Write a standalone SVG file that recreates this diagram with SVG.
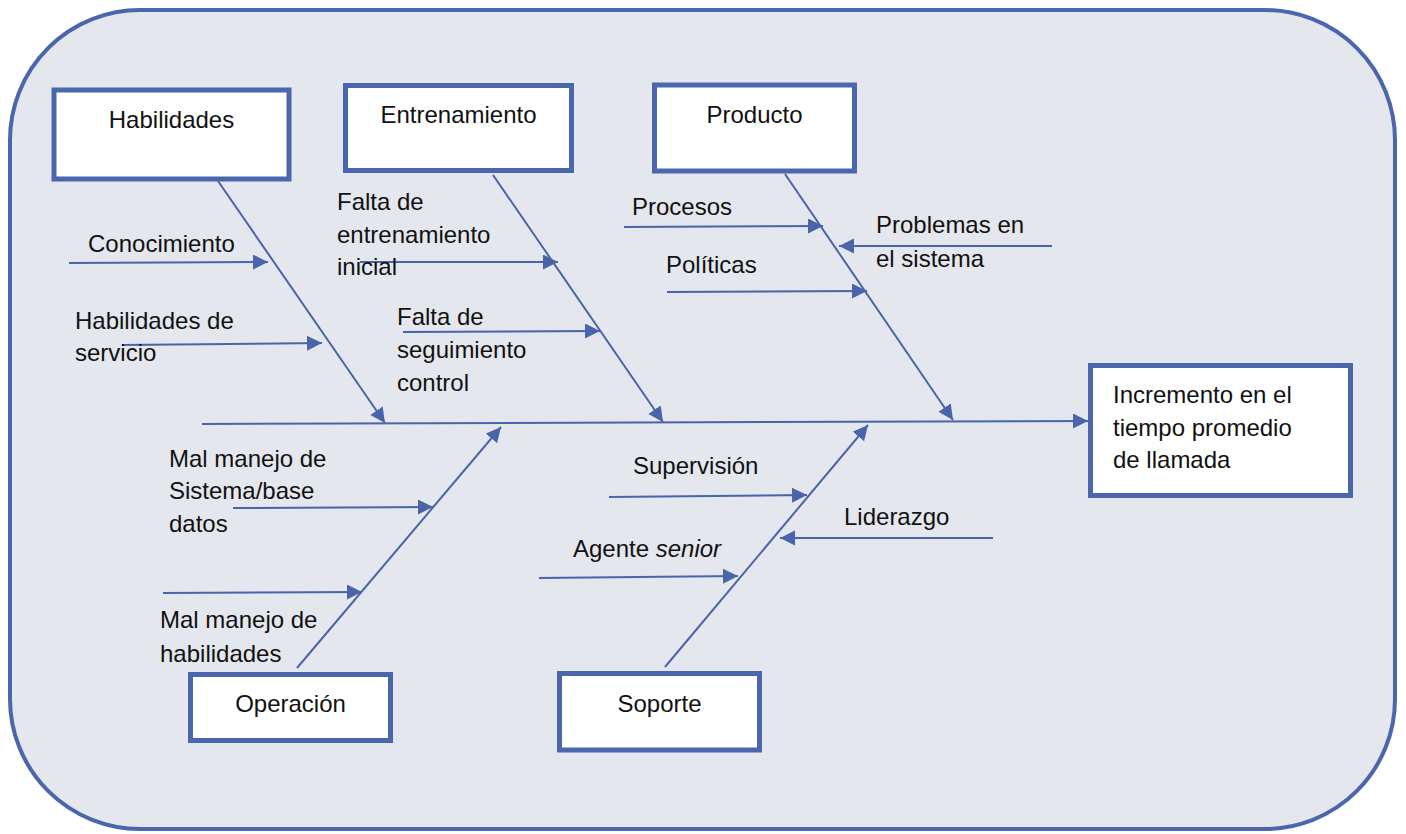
<svg xmlns="http://www.w3.org/2000/svg" width="1406" height="834" viewBox="0 0 1406 834">
  <style>
    .frame { fill: #e4e7ee; stroke: #4a66ac; stroke-width: 4; }
    .box { fill: #ffffff; stroke: #4a66ac; stroke-width: 5; }
    .ln { fill: none; stroke: #4a64aa; stroke-width: 2; }
    .arr { marker-end: url(#head); }
    text { font-family: "Liberation Sans", Arial, sans-serif; font-size: 24px; fill: #111111; }
    .c { text-anchor: middle; }
  </style>
  <defs>
    <marker id="head" markerUnits="userSpaceOnUse" markerWidth="16" markerHeight="16" viewBox="0 0 16 16" refX="15" refY="7.5" orient="auto">
      <path d="M0,0 L15,7.5 L0,15 z" fill="#4a64aa"/>
    </marker>
  </defs>

  <!-- background panel -->
  <rect class="frame" x="10" y="10" width="1385" height="819" rx="130" ry="130"/>

  <!-- spine, bones and cause arrows -->
  <g id="connectors">
    <line class="ln arr" x1="202" y1="424" x2="1088" y2="421"/>
    <line class="ln arr" x1="218" y1="181" x2="385" y2="423"/>
    <line class="ln arr" x1="493" y1="175" x2="663" y2="422"/>
    <line class="ln arr" x1="785" y1="174" x2="953" y2="420"/>
    <line class="ln arr" x1="297" y1="668" x2="501" y2="427"/>
    <line class="ln arr" x1="665" y1="667" x2="868" y2="425"/>

    <line class="ln arr" x1="69" y1="263" x2="268" y2="262"/>
    <line class="ln arr" x1="122" y1="345" x2="322" y2="343"/>
    <line class="ln arr" x1="360" y1="262" x2="558" y2="262"/>
    <line class="ln arr" x1="403" y1="332" x2="600" y2="331"/>
    <line class="ln arr" x1="624" y1="227" x2="823" y2="226"/>
    <line class="ln arr" x1="1052" y1="246" x2="839" y2="246"/>
    <line class="ln arr" x1="667" y1="292" x2="867" y2="291"/>
    <line class="ln arr" x1="233" y1="508" x2="433" y2="507"/>
    <line class="ln arr" x1="163" y1="593" x2="362" y2="592"/>
    <line class="ln arr" x1="609" y1="497" x2="807" y2="495"/>
    <line class="ln arr" x1="993" y1="538" x2="780" y2="538"/>
    <line class="ln arr" x1="539" y1="578" x2="738" y2="576"/>
  </g>

  <!-- category boxes -->
  <g id="habilidades">
    <rect class="box" x="54" y="90" width="235" height="89"/>
    <text class="c" x="171.5" y="128">Habilidades</text>
  </g>
  <g id="entrenamiento">
    <rect class="box" x="345.5" y="85.5" width="226" height="85"/>
    <text class="c" x="458.5" y="123">Entrenamiento</text>
  </g>
  <g id="producto">
    <rect class="box" x="654.5" y="85" width="200" height="86"/>
    <text class="c" x="754.5" y="123">Producto</text>
  </g>
  <g id="operacion">
    <rect class="box" x="190.5" y="674.5" width="200" height="66"/>
    <text class="c" x="290.5" y="712">Operación</text>
  </g>
  <g id="soporte">
    <rect class="box" x="559.5" y="673.5" width="200" height="76.5"/>
    <text class="c" x="659.5" y="712">Soporte</text>
  </g>
  <g id="efecto">
    <rect class="box" x="1090.5" y="365.5" width="260" height="130"/>
    <text x="1113" y="403">Incremento en el</text>
    <text x="1113" y="436">tiempo promedio</text>
    <text x="1113" y="468">de llamada</text>
  </g>

  <!-- cause labels -->
  <g id="causas">
    <text x="88" y="252">Conocimiento</text>
    <text x="75" y="329">Habilidades de</text>
    <text x="75" y="361">servicio</text>
    <text x="337" y="210">Falta de</text>
    <text x="337" y="243">entrenamiento</text>
    <text x="337" y="275">inicial</text>
    <text x="397" y="325">Falta de</text>
    <text x="397" y="358">seguimiento</text>
    <text x="397" y="391">control</text>
    <text x="632" y="215">Procesos</text>
    <text x="666" y="273">Políticas</text>
    <text x="876" y="233">Problemas en</text>
    <text x="876" y="267">el sistema</text>
    <text x="169" y="467">Mal manejo de</text>
    <text x="169" y="499">Sistema/base</text>
    <text x="169" y="532">datos</text>
    <text x="160" y="628">Mal manejo de</text>
    <text x="160" y="662">habilidades</text>
    <text x="633" y="474">Supervisión</text>
    <text x="844" y="525">Liderazgo</text>
    <text x="573" y="557">Agente <tspan font-style="italic">senior</tspan></text>
  </g>
</svg>
